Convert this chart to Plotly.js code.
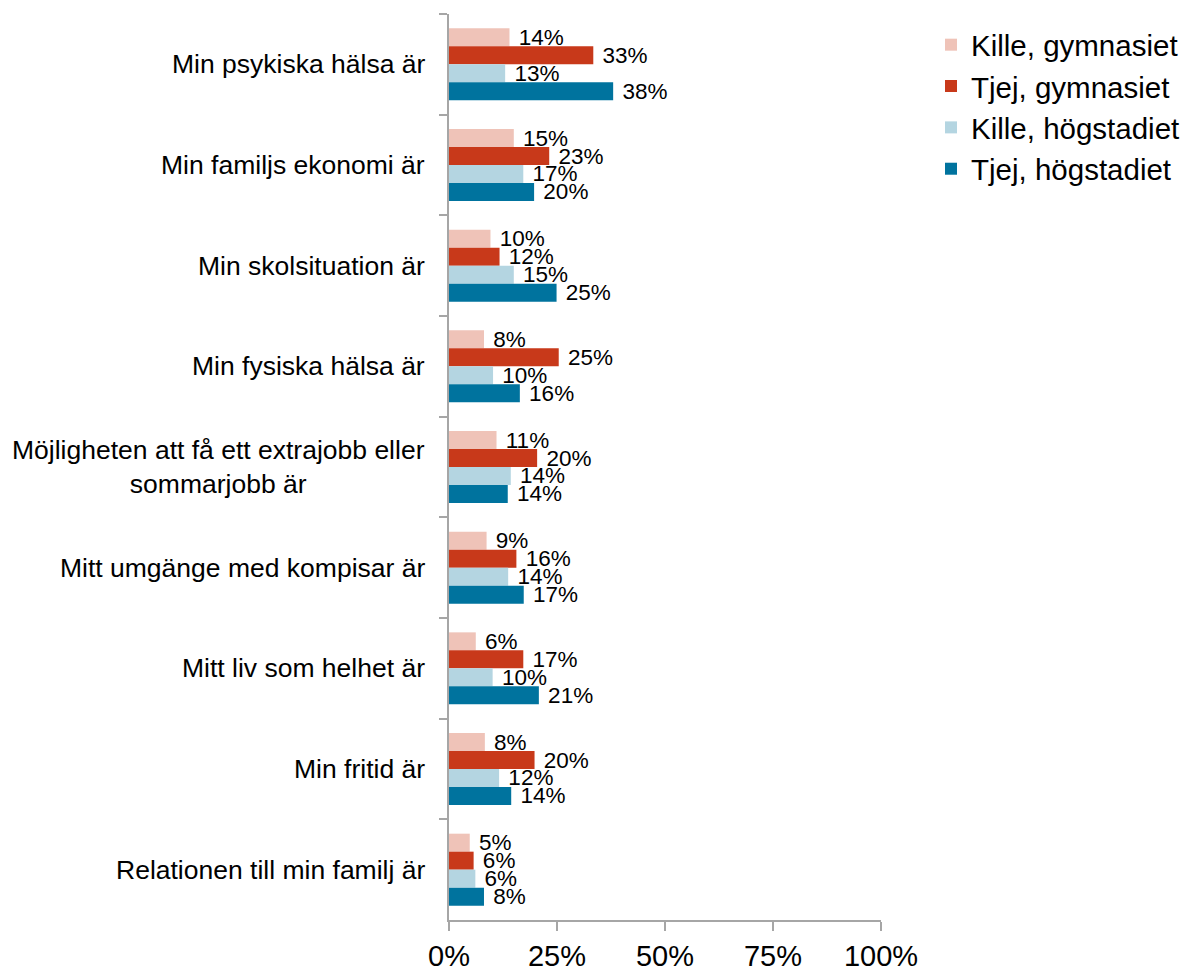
<!DOCTYPE html>
<html>
<head>
<meta charset="utf-8">
<script src="https://cdn.plot.ly/plotly-3.0.1.min.js"></script>
<style>html,body{margin:0;padding:0;background:#fff;}#chart{width:1187px;height:969px;}</style>
</head>
<body>
<div id="chart"></div>
<script>
const categories = [
  "Min psykiska hälsa är",
  "Min familjs ekonomi är",
  "Min skolsituation är",
  "Min fysiska hälsa är",
  "Möjligheten att få ett extrajobb eller<br>sommarjobb är",
  "Mitt umgänge med kompisar är",
  "Mitt liv som helhet är",
  "Min fritid är",
  "Relationen till min familj är"
];
const seriesNames = ["Kille, gymnasiet", "Tjej, gymnasiet", "Kille, högstadiet", "Tjej, högstadiet"];
const killeGymnasiet = [14.0, 15.0, 9.6, 8.1, 11.0, 8.7, 6.2, 8.3, 4.8];
const tjejGymnasiet  = [33.4, 23.2, 11.7, 25.4, 20.4, 15.6, 17.2, 19.8, 5.7];
const killeHogstadiet = [13.0, 17.2, 15.0, 10.2, 14.3, 13.7, 10.1, 11.6, 6.1];
const tjejHogstadiet  = [38.0, 19.7, 24.9, 16.4, 13.6, 17.3, 20.8, 14.4, 8.1];
const xTickVals = [0, 25, 50, 75, 100];
const xTickText = ["0%", "25%", "50%", "75%", "100%"];

const colors = ["#EFC3B8", "#C8391A", "#B4D5E1", "#00739E"];
const values = [killeGymnasiet, tjejGymnasiet, killeHogstadiet, tjejHogstadiet];
const FONT = "Arial, 'Liberation Sans', sans-serif";

const traces = values.map((v, i) => ({
  type: "bar",
  orientation: "h",
  name: seriesNames[i],
  legendgroup: "g" + i,
  x: v,
  y: categories,
  marker: {color: colors[i], line: {width: 0}},
  texttemplate: "\u00a0%{x:.0f}%",
  textposition: "outside",
  constraintext: "none",
  cliponaxis: false,
  textfont: {family: FONT, size: 22.5, color: "#000"},
  hoverinfo: "x+name"
}));

const annotations = categories.map(c => ({
  xref: "paper", yref: "y", x: 0, y: c,
  xanchor: "right", yanchor: "middle", xshift: -22,
  text: c, showarrow: false, align: "center",
  font: {family: FONT, size: 26.5, color: "#000"}
}));

const layout = {
  width: 1187, height: 969,
  margin: {l: 449, r: 306, t: 14, b: 49, pad: 0},
  paper_bgcolor: "#fff", plot_bgcolor: "#fff",
  barmode: "group", bargap: 0.285, bargroupgap: 0,
  showlegend: true,
  legend: {
    xref: "container", yref: "container",
    x: 931 / 1187, y: 1 - 19 / 969, xanchor: "left", yanchor: "top",
    font: {family: FONT, size: 29.5, color: "#000"},
    traceorder: "normal", tracegroupgap: 5, bgcolor: "rgba(0,0,0,0)"
  },
  xaxis: {
    range: [0, 100], tickvals: xTickVals, ticktext: xTickText,
    showgrid: false, zeroline: false,
    showline: true, linecolor: "#a6a6a6", linewidth: 2,
    ticks: "outside", ticklen: 9, tickwidth: 2, tickcolor: "#a6a6a6",
    tickfont: {family: FONT, size: 29, color: "#000"}
  },
  yaxis: {
    type: "category", autorange: "reversed",
    showgrid: false, zeroline: false,
    showline: true, linecolor: "#a6a6a6", linewidth: 2,
    ticks: "outside", ticklen: 8, tickwidth: 2, tickcolor: "#a6a6a6",
    tickson: "boundaries", showticklabels: false
  },
  annotations: annotations,
  font: {family: FONT}
};

Plotly.newPlot("chart", traces, layout, {displayModeBar: false, staticPlot: true});
</script>
</body>
</html>
